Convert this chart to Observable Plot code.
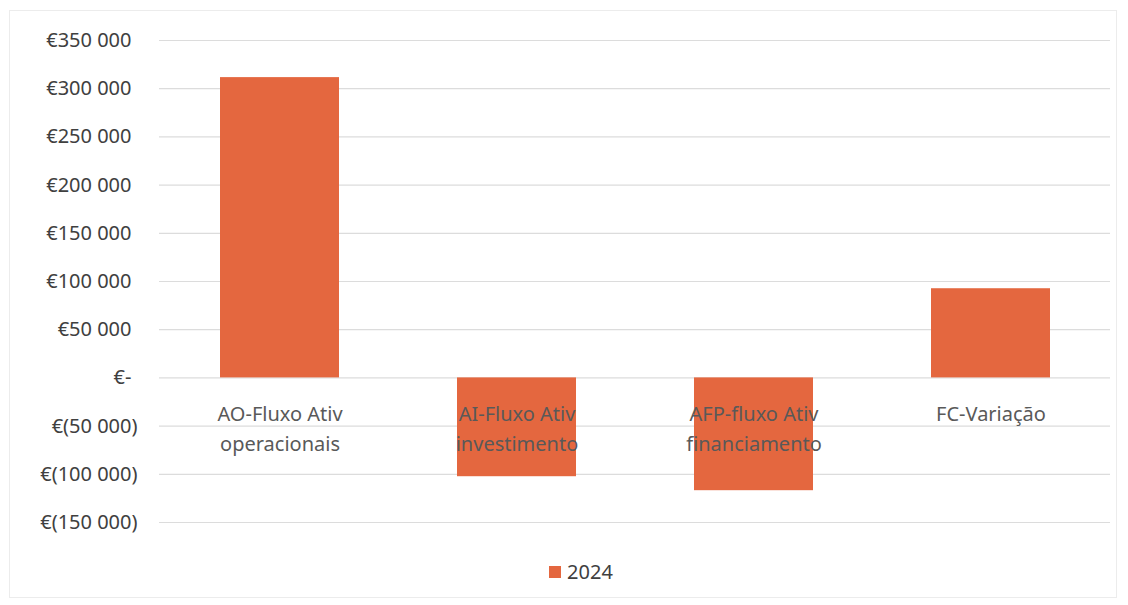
<!DOCTYPE html>
<html>
<head>
<meta charset="utf-8">
<script src="https://cdn.jsdelivr.net/npm/d3@7"></script>
<script src="https://cdn.jsdelivr.net/npm/@observablehq/plot@0.6"></script>
<style>
  html, body { margin: 0; padding: 0; background: #fff; }
  body { width: 1128px; height: 605px; position: relative; overflow: hidden; font-family: "Noto Sans", sans-serif; }
  #frame { position: absolute; left: 9px; top: 10px; width: 1108px; height: 588px; border: 1px solid #ececec; box-sizing: border-box; pointer-events: none; }
  #chart { position: absolute; left: 0; top: 0; }
  #legend { position: absolute; left: 17px; top: 545px; width: 1128px; height: 60px; display: flex; justify-content: center; align-items: center; font-size: 20px; color: #404040; }
  #legend .sw { width: 12px; height: 12px; background: #E4673F; margin-right: 6px; margin-top: 1px; }
  #legend span { position: relative; top: -4px; display: flex; align-items: center; }
</style>
</head>
<body>
<div id="frame"></div>
<div id="chart"></div>
<div id="legend"><span><div class="sw"></div>2024</span></div>
<script>
const categories = ["AO-Fluxo Ativ\noperacionais", "AI-Fluxo Ativ\ninvestimento", "AFP-fluxo Ativ\nfinanciamento", "FC-Variação"];
const values2024 = [311500, -102500, -117000, 92500];
const yTicks = [-150000, -100000, -50000, 0, 50000, 100000, 150000, 200000, 250000, 300000, 350000];
const seriesName = "2024";

const data = categories.map((c, i) => ({category: c, value: values2024[i]}));

const loc = d3.formatLocale({decimal: ",", thousands: " ", grouping: [3], currency: ["€", ""]});
const fmtNum = loc.format(",.0f");
const fmt = v => v === 0 ? "€-" : v < 0 ? "€(" + fmtNum(-v) + ")" : "€" + fmtNum(v);

const barColor = "#E4673F";

const chart = Plot.plot({
  width: 1128,
  height: 545,
  marginLeft: 159,
  marginRight: 18,
  marginTop: 40,
  marginBottom: 23,
  style: {fontFamily: "Noto Sans, sans-serif", fontSize: "20px", color: "#404040", background: "transparent"},
  x: {domain: categories, paddingInner: 0.5, paddingOuter: 0.25, axis: null},
  y: {domain: [-150000, 350000], ticks: yTicks, axis: null},
  marks: [
    Plot.ruleY(yTicks, {stroke: "#dcdcdc", strokeWidth: 1.2}),
    Plot.barY(data, {x: "category", y: "value", fill: barColor, style: {filter: "drop-shadow(1px 2px 2px rgba(0,0,0,0.25))"}}),
    Plot.axisY(yTicks.filter(d => d >= 0), {tickSize: 0, tickPadding: 28, tickFormat: fmt, fontSize: 20, fill: "#404040", label: null}),
    Plot.axisY(yTicks.filter(d => d < 0), {tickSize: 0, tickPadding: 28, dx: 6, tickFormat: fmt, fontSize: 20, fill: "#404040", label: null}),
    Plot.text(categories, {x: d => d, y: () => 0, text: d => d, lineAnchor: "top", dy: 22, lineHeight: 1.5, fontSize: 20, fill: "#595959"})
  ]
});
document.getElementById("chart").appendChild(chart);
</script>
</body>
</html>
